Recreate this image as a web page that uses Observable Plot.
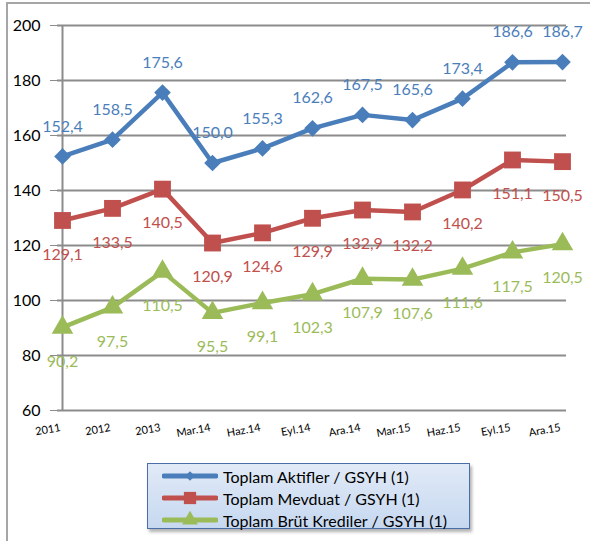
<!DOCTYPE html>
<html><head><meta charset="utf-8">
<script src="https://cdn.jsdelivr.net/npm/d3@7"></script>
<script src="https://cdn.jsdelivr.net/npm/@observablehq/plot@0.6"></script>
<style>
body{margin:0;background:#fff;font-family:Lato,"Noto Sans",sans-serif;}
#wrap{position:relative;width:590px;height:541px;overflow:hidden;}
#frame{position:absolute;left:6px;top:2px;width:700px;height:700px;border-left:2px solid #a6a6a6;border-top:2px solid #a6a6a6;}
#chart{position:absolute;left:0;top:0;}
#legend{position:absolute;left:147px;top:463px;width:321px;height:64px;border:1.5px solid #4a6fa8;
  background:linear-gradient(#e1eaf7,#c6d8f0);box-shadow:2px 3px 3px rgba(0,0,0,0.3);}
.row{position:absolute;left:14px;height:22px;display:flex;align-items:center;font-size:16px;color:#000;}
.row svg{margin-right:5px;}
</style></head>
<body><div id="wrap"><div id="frame"></div><div id="chart"></div><div id="legend"></div></div>
<script>
const categories = ["2011","2012","2013","Mar.14","Haz.14","Eyl.14","Ara.14","Mar.15","Haz.15","Eyl.15","Ara.15"];
const seriesNames = ["Toplam Aktifler / GSYH (1)","Toplam Mevduat / GSYH (1)","Toplam Brüt Krediler / GSYH (1)"];
const aktifler = [152.4,158.5,175.6,150.0,155.3,162.6,167.5,165.6,173.4,186.6,186.7];
const mevduat = [129.1,133.5,140.5,120.9,124.6,129.9,132.9,132.2,140.2,151.1,150.5];
const krediler = [90.2,97.5,110.5,95.5,99.1,102.3,107.9,107.6,111.6,117.5,120.5];
const yTicks = [60,80,100,120,140,160,180,200];

const colors = ["#4a7ebb","#c0504d","#9bbb59"];
const symbols = ["diamond2","square","triangle"];
const radii = [7.5,9.5,8];
const labelDy = [-30,34,34];
const values = [aktifler, mevduat, krediler];
const fmt = v => d3.format(".1f")(v).replace(".", ",");

const series = seriesNames.map((name,i) => values[i].map((v,j) => ({cat: categories[j], value: v, series: name})));

const marks = [
  Plot.ruleY(yTicks, {stroke:"#8c8c8c", strokeWidth:2}),
  Plot.ruleX([categories[0]], {stroke:"#8c8c8c", strokeWidth:2}),
  Plot.axisY({ticks: yTicks, tickSize:7, tickPadding:10, stroke:"#8c8c8c", fontSize:16, fill:"#000", label:null}),
  Plot.axisX({tickSize:0, tickRotate:-10, fontSize:11, textAnchor:"end", dx:-2, dy:4, fill:"#000", label:null})
];
series.forEach((rows,i) => {
  marks.push(Plot.line(rows, {x:"cat", y:"value", stroke:colors[i], strokeWidth:4.5}));
  marks.push(Plot.dot(rows, {x:"cat", y:"value", symbol:symbols[i], r:radii[i], fill:colors[i], stroke:"none"}));
  marks.push(Plot.text(rows, {x:"cat", y:"value", text:d => fmt(d.value), dy:labelDy[i], fill:colors[i], fontSize:16}));
});

const chart = Plot.plot({
  width:590, height:450,
  marginLeft:57, marginRight:24, marginTop:25, marginBottom:40,
  style:{fontFamily:"Lato, 'Noto Sans', sans-serif", background:"transparent", overflow:"visible"},
  x:{type:"point", domain:categories, padding:0, label:null},
  y:{domain:[60,200], label:null},
  marks
});
document.getElementById("chart").appendChild(chart);

const legend = document.getElementById("legend");
seriesNames.forEach((name,i) => {
  const row = document.createElement("div");
  row.className = "row";
  row.style.top = (1 + i*22) + "px";
  const svg = d3.create("svg").attr("width",56).attr("height",22);
  svg.append("line").attr("x1",2).attr("x2",54).attr("y1",11).attr("y2",11)
    .attr("stroke",colors[i]).attr("stroke-width",5).attr("stroke-linecap","round");
  const symType = [d3.symbolDiamond2, d3.symbolSquare, d3.symbolTriangle][i];
  const size = [60, 150, 110][i];
  svg.append("path").attr("d", d3.symbol(symType, size)()).attr("transform","translate(28,11)").attr("fill",colors[i]);
  row.appendChild(svg.node());
  const span = document.createElement("span");
  span.textContent = name;
  row.appendChild(span);
  legend.appendChild(row);
});
</script></body></html>
